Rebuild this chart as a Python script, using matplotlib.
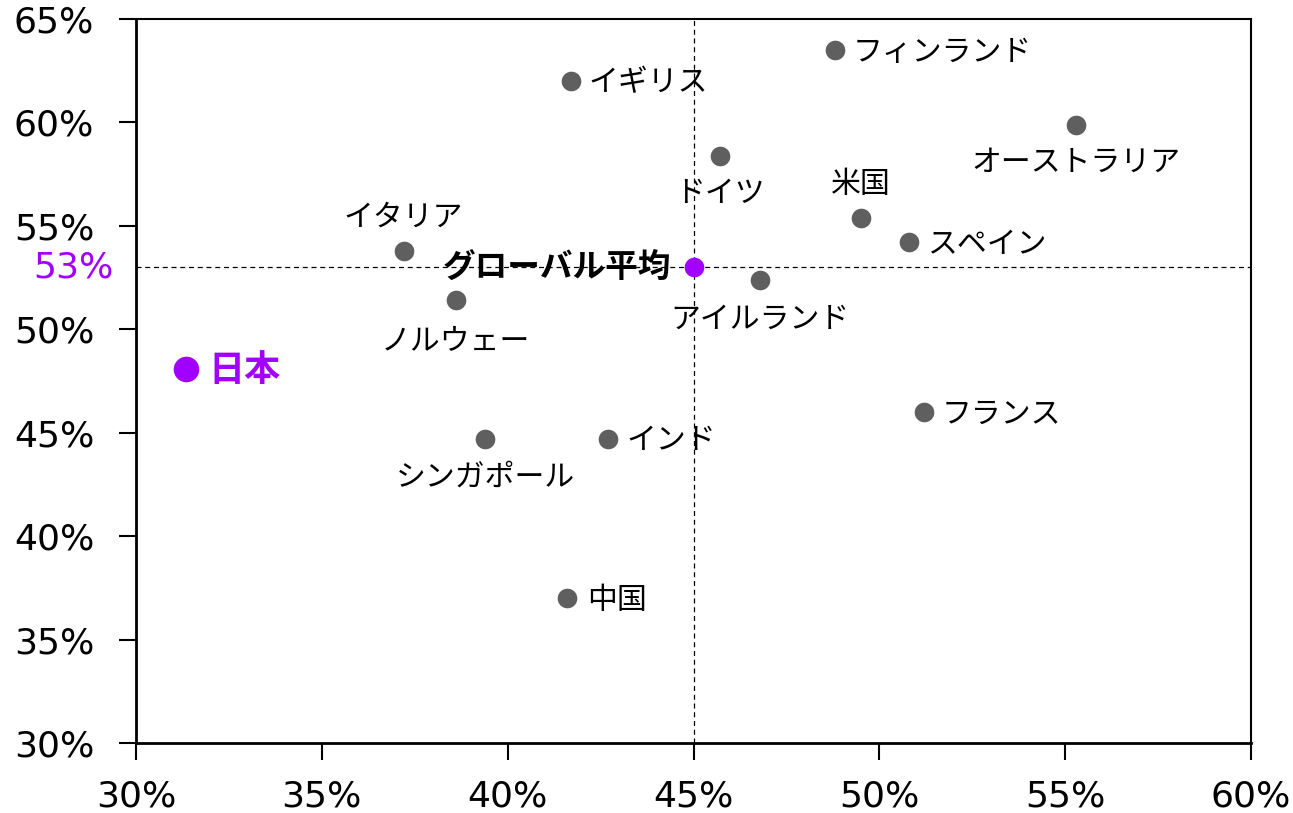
import matplotlib
matplotlib.use("Agg")
import matplotlib.pyplot as plt
from matplotlib.ticker import FuncFormatter
import matplotlib.transforms as mtransforms

plt.rcParams['font.family'] = ['Noto Sans CJK JP', 'DejaVu Sans']

countries = ['イギリス', 'フィンランド', 'オーストラリア', 'ドイツ', '米国', 'スペイン',
             'イタリア', 'アイルランド', 'ノルウェー', 'フランス', 'シンガポール', 'インド', '中国']
x_vals = [41.7, 48.8, 55.3, 45.7, 49.5, 50.8, 37.2, 46.8, 38.6, 51.2, 39.4, 42.7, 41.6]
y_vals = [62.0, 63.5, 59.9, 58.4, 55.4, 54.2, 53.8, 52.4, 51.4, 46.0, 44.7, 44.7, 37.0]

# label placement: (dx, dy, ha) in pixels
label_pos = {
    'イギリス': (18, -2, 'left'),
    'フィンランド': (18, -2, 'left'),
    'オーストラリア': (0, -38, 'center'),
    'ドイツ': (0, -38, 'center'),
    '米国': (0, 33, 'center'),
    'スペイン': (18, -2, 'left'),
    'イタリア': (0, 34, 'center'),
    'アイルランド': (0, -40, 'center'),
    'ノルウェー': (0, -40, 'center'),
    'フランス': (18, -2, 'left'),
    'シンガポール': (0, -38, 'center'),
    'インド': (18, -2, 'left'),
    '中国': (20, -2, 'left'),
}

global_x, global_y = 45.0, 53.0
japan_x, japan_y = 31.35, 48.1

purple = '#a100ff'
gray = '#5f5f5f'
tick_font = 'DejaVu Sans'

fig = plt.figure(figsize=(12.93, 8.13), dpi=100)
ax = fig.add_axes([0.1052, 0.0861, 0.8623, 0.8905])

ax.axhline(global_y, color='black', lw=0.9, ls=(0, (4, 3)), zorder=1)
ax.axvline(global_x, color='black', lw=0.9, ls=(0, (4, 3)), zorder=1)

ax.scatter(x_vals, y_vals, s=200, color=gray, zorder=3, linewidths=0)
for name, xv, yv in zip(countries, x_vals, y_vals):
    dx, dy, ha = label_pos[name]
    ax.annotate(name, (xv, yv), xytext=(dx, dy), textcoords='offset pixels',
                ha=ha, va='center', fontsize=21.5, color='black')

ax.scatter([global_x], [global_y], s=200, color=purple, zorder=3, linewidths=0)
ax.annotate('グローバル平均', (global_x, global_y), xytext=(-22, 0), textcoords='offset pixels',
            ha='right', va='center', fontsize=23.5, fontweight='bold', color='black')

ax.scatter([japan_x], [japan_y], s=340, color=purple, zorder=3, linewidths=0)
ax.annotate('日本', (japan_x, japan_y), xytext=(22, -2), textcoords='offset pixels',
            ha='left', va='center', fontsize=26, fontweight='bold', color=purple)

ax.set_xlim(30, 60)
ax.set_ylim(30, 65)
ax.set_xticks(range(30, 61, 5))
ax.set_yticks(range(30, 66, 5))
pct = FuncFormatter(lambda v, p: f'{v:.0f}%')
ax.xaxis.set_major_formatter(pct)
ax.yaxis.set_major_formatter(pct)
ax.tick_params(axis='both', direction='out', length=12, width=1.5, labelsize=26)
ax.tick_params(axis='x', pad=14)
ax.tick_params(axis='y', pad=18)
for lbl in ax.get_xticklabels() + ax.get_yticklabels():
    lbl.set_fontfamily(tick_font)

trans = mtransforms.blended_transform_factory(ax.transAxes, ax.transData)
ax.text(-0.02, global_y, f'{global_y:.0f}%', transform=trans, ha='right', va='center',
        fontsize=26, color=purple, family=tick_font)

for s in ax.spines.values():
    s.set_linewidth(1.5)
ax.spines['left'].set_linewidth(2)
ax.spines['bottom'].set_linewidth(2)

plt.savefig('out.png', dpi=100)
